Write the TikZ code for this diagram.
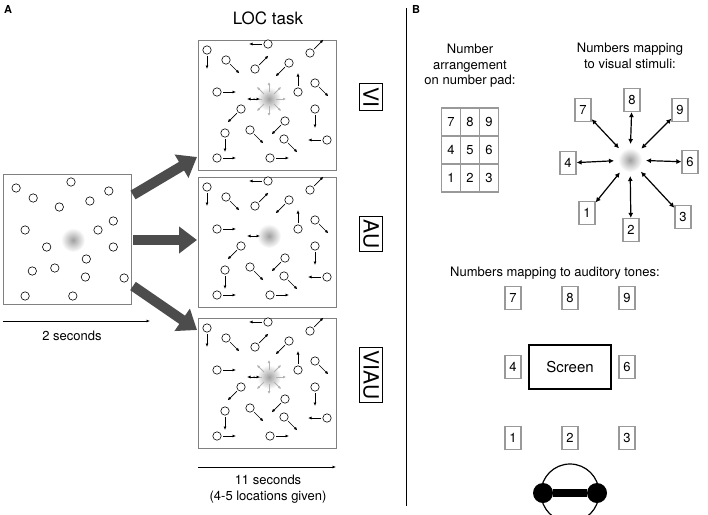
\documentclass[tikz,border=0pt]{standalone}
\usepackage{fontspec}
\setmainfont{TeX Gyre Heros}
\usetikzlibrary{positioning,calc,arrows.meta}
\tikzset{
  panel/.style={draw=gray, line width=1pt},
  numbox/.style={draw=gray!80, line width=1.2pt, minimum width=16pt, minimum height=23pt, inner sep=1pt, font=\fontsize{13}{13}\selectfont},
  txt/.style={align=center, font=\fontsize{13}{15.5}\selectfont},
  dot/.style={draw, line width=0.6pt, fill=white},
  move/.style={-{Latex[length=3.5pt,width=3pt]}, line width=0.7pt},
  ray/.style={-{Latex[length=3pt,width=3pt]}, gray!60, line width=0.8pt},
  bigarrow/.style={-{Triangle[length=18pt,width=26pt]}, line width=10pt, black!70},
  twoway/.style={{Latex[length=5pt,width=5pt]}-{Latex[length=5pt,width=5pt]}, line width=1.2pt},
}
\newcommand{\dotlist}{9/10/90, 70/4/180, 112/13/-45, 28/20/45, 57/29/-45, 91/23/135, 19/52/0, 100/52/270, 117/43/45, 43/69/135, 117/69/90, 87/81/135, 27/93/90, 52/90/45, 86/99/45, 129/100/180, 19/118/0, 72/118/0}
\newcommand{\blob}[1]{\shade[inner color=gray!75, outer color=white] (#1) circle (12);}
\begin{document}
\begin{tikzpicture}[x=1pt, y=-1pt]
\useasboundingbox (0,0) rectangle (708,514);
\node[font=\bfseries\fontsize{11}{11}\selectfont] (labA) at (8,9) {A};
\node[font=\bfseries\fontsize{11}{11}\selectfont] (labB) at (416,9) {B};
\draw[line width=1pt] (406,8) -- (406,506);

% first display, 2 seconds
\draw[panel] (3,174) rectangle (131,304);
\begin{scope}[shift={(3,174)}]
  \blob{70,66}
  \foreach \x/\y/\a in \dotlist { \draw[dot] (\x*0.9+5,\y+4) circle (4.2); }
\end{scope}
\coordinate (t0) at (3,321);
\coordinate (t1) at (150,321);
\draw[move, line width=1pt] (t0) -- (t1);
\node[txt] (sec2) at (72,336) {2 seconds};

% three LOC panels
\node[font=\fontsize{17}{17}\selectfont] (loc) at (268,18) {LOC task};
\foreach \py/\rays/\lab/\nm in {40/1/VI/vi, 177/0/AU/au, 318/1/VIAU/viau} {
  \draw[panel] (198,\py) rectangle (336,\py+130);
  \begin{scope}[shift={(198,\py)}]
    \blob{71,59}
    \ifnum\rays=1
      \foreach \r in {0,45,...,315} { \draw[ray] (71,59)+(\r:7) -- +(\r:17); }
    \fi
    \draw[{Latex[length=3.5pt,width=3pt]}-{Latex[length=3.5pt,width=3pt]}, line width=0.7pt] (49,59) -- (62,59);
    \foreach \x/\y/\a in \dotlist {
      \draw[dot] (\x,\y) circle (4.2);
      \draw[move] (\x,\y)+(\a:6) -- +(\a:19);
    }
  \end{scope}
  \node[draw, line width=1.1pt, rotate=-90, font=\fontsize{21}{21}\selectfont, inner sep=3.5pt] (\nm) at (371,\py+57) {\lab};
}
\coordinate (s0) at (133,195);
\coordinate (s1) at (133,240);
\coordinate (s2) at (133,286);
\coordinate (e0) at (197,157);
\coordinate (e1) at (197,240);
\coordinate (e2) at (197,330);
\draw[bigarrow] (s0) -- (e0);
\draw[bigarrow] (s1) -- (e1);
\draw[bigarrow] (s2) -- (e2);
\coordinate (u0) at (198,467);
\coordinate (u1) at (336,467);
\draw[move, line width=1pt] (u0) -- (u1);
\node[txt] (sec11) at (268,489) {11 seconds\\(4-5 locations given)};

% number pad
\node[txt] (padtxt) at (470,66) {Number\\arrangement\\on number pad:};
\foreach \n [count=\i from 0] in {7,8,9,4,5,6,1,2,3} {
  \pgfmathtruncatemacro{\cx}{mod(\i,3)}
  \pgfmathtruncatemacro{\cy}{div(\i,3)}
  \node[draw=gray!80, line width=1.2pt, minimum width=19pt, minimum height=28pt, inner sep=0pt,
        font=\fontsize{13}{13}\selectfont] (pad\n) at (451+19*\cx, 122+28*\cy) {\n};
}

% visual mapping
\node[txt] (vistxt) at (630,56) {Numbers mapping\\to visual stimuli:};
\blob{630,160}
\coordinate (ctr) at (630,160);
\foreach \n/\x/\y in {8/632/100, 7/583/110, 9/680/110, 4/568/163, 6/690/162, 1/587/213, 2/631/230, 3/683/217} {
  \node[numbox] (v\n) at (\x,\y) {\n};
  \draw[twoway] (v\n) -- ($(ctr)!16pt!(v\n)$);
}

% auditory mapping
\node[txt] (audtxt) at (555,273) {Numbers mapping to auditory tones:};
\node[draw, line width=1.4pt, minimum width=82pt, minimum height=44pt, font=\fontsize{15}{15}\selectfont] (screen) at (570,367) {Screen};
\foreach \n/\x/\y in {7/513/298, 8/570/298, 9/627/298, 4/513/367, 6/627/367, 1/513/438, 2/570/438, 3/627/438} {
  \node[numbox] (a\n) at (\x,\y) {\n};
}
\node[draw, circle, line width=1.2pt, minimum size=58pt] (head) at (570,493) {};
\node[circle, fill, minimum size=20pt, inner sep=0pt] (earL) at (543,493) {};
\node[circle, fill, minimum size=20pt, inner sep=0pt] (earR) at (597,493) {};
\draw[line width=8pt] (earL) -- (earR);
\end{tikzpicture}
\end{document}
